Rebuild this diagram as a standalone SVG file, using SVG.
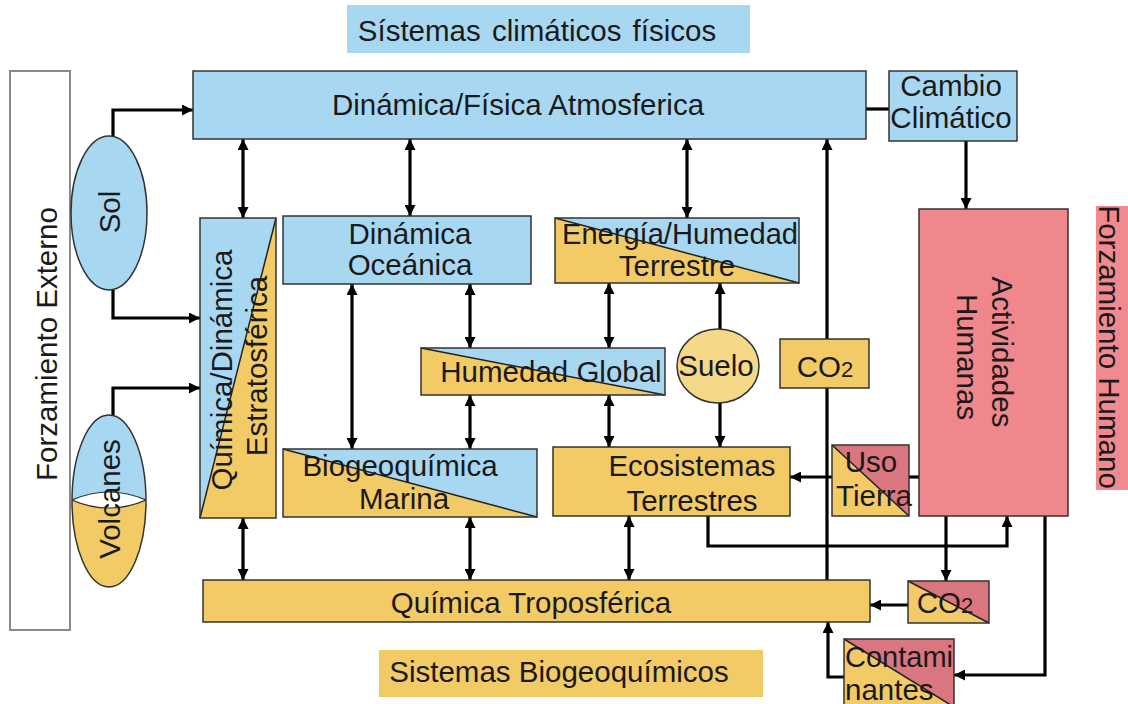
<svg xmlns="http://www.w3.org/2000/svg" width="1128" height="704" viewBox="0 0 1128 704">
<defs>
<marker id="ah" viewBox="0 0 10 10" refX="10" refY="5" markerWidth="11" markerHeight="11" markerUnits="userSpaceOnUse" orient="auto-start-reverse">
<path d="M0,0 L10,5 L0,10 z" fill="#000"/>
</marker>
<clipPath id="volClip"><ellipse cx="109" cy="501" rx="37" ry="86"/></clipPath>
</defs>
<style>
text{font-family:"Liberation Sans",Arial,sans-serif;font-size:29.5px;fill:#1a1a1a}
.m{text-anchor:middle}
.blue{fill:#a8d8f1}
.yel{fill:#f2ca66}
.red{fill:#d9767f}
.ol{fill:none;stroke:#333;stroke-width:1.5}
.dg{stroke:#222;stroke-width:1.5}
.c{fill:none;stroke:#000;stroke-width:3.2}
.a{marker-end:url(#ah)}
.d{marker-start:url(#ah);marker-end:url(#ah)}
</style>
<rect width="1128" height="704" fill="#fff"/>

<g id="label-fisicos">
<rect x="347" y="5" width="403" height="48" class="blue"/>
<text x="537" y="41" class="m" word-spacing="3">Sístemas climáticos físicos</text>
</g>
<g id="label-biogeo">
<rect x="379" y="650" width="384" height="47" class="yel"/>
<text x="559" y="682" class="m">Sistemas Biogeoquímicos</text>
</g>
<g id="forz-externo">
<rect x="10" y="71" width="60" height="559" fill="#fff" stroke="#8a8a8a" stroke-width="2"/>
<text transform="translate(57,344) rotate(-90)" class="m">Forzamiento Externo</text>
</g>
<g id="forz-humano">
<rect x="1096" y="206" width="32" height="284" fill="#f08a90"/>
<text transform="translate(1099,347) rotate(90)" class="m">Forzamiento Humano</text>
</g>

<g id="connectors">
<polyline points="113,136 113,110 193,110" class="c a"/>
<polyline points="113,290 113,318 200,318" class="c a"/>
<polyline points="113,415 113,388 200,388" class="c a"/>
<line x1="243" y1="139" x2="243" y2="218" class="c d"/>
<line x1="410" y1="139" x2="410" y2="216" class="c d"/>
<line x1="687" y1="139" x2="687" y2="218" class="c d"/>
<line x1="866" y1="109" x2="889" y2="109" class="c"/>
<line x1="966" y1="141" x2="966" y2="209" class="c a"/>
<line x1="352" y1="284" x2="352" y2="449" class="c d"/>
<line x1="470" y1="284" x2="470" y2="348" class="c d"/>
<line x1="470" y1="395" x2="470" y2="449" class="c d"/>
<line x1="609" y1="283" x2="609" y2="348" class="c d"/>
<line x1="609" y1="395" x2="609" y2="447" class="c d"/>
<line x1="720" y1="329" x2="720" y2="283" class="c a"/>
<line x1="720" y1="402" x2="720" y2="447" class="c a"/>
<line x1="243" y1="518" x2="243" y2="580" class="c d"/>
<line x1="470" y1="517" x2="470" y2="580" class="c d"/>
<line x1="629" y1="516" x2="629" y2="580" class="c d"/>
<line x1="827" y1="580" x2="827" y2="139" class="c a"/>
<line x1="832" y1="477" x2="790" y2="477" class="c a"/>
<line x1="919" y1="477" x2="909" y2="477" class="c"/>
<polyline points="708,516 708,546 1007,546 1007,516" class="c a"/>
<line x1="946" y1="516" x2="946" y2="581" class="c a"/>
<line x1="908" y1="605" x2="870" y2="605" class="c a"/>
<polyline points="1045,516 1045,675 954,675" class="c a"/>
<polyline points="844,677 828,677 828,622" class="c a"/>
</g>

<g id="atmosferica">
<rect x="193" y="71" width="673" height="68" class="blue"/>
<rect x="193" y="71" width="673" height="68" class="ol"/>
<text x="518" y="115" class="m">Dinámica/Física Atmosferica</text>
</g>
<g id="cambio">
<rect x="889" y="71" width="128" height="70" class="blue"/>
<rect x="889" y="71" width="128" height="70" class="ol"/>
<text x="951" y="96" class="m">Cambio</text>
<text x="951" y="128" class="m">Climático</text>
</g>
<g id="sol">
<ellipse cx="109" cy="213" rx="38" ry="77" class="blue" stroke="#333" stroke-width="1.5"/>
<text transform="translate(120,212) rotate(-90)" class="m">Sol</text>
</g>
<g id="volcanes">
<g clip-path="url(#volClip)">
<rect x="70" y="414" width="80" height="87" class="blue"/>
<rect x="70" y="500" width="80" height="90" class="yel"/>
<path d="M72,500 Q109,484 146,500 Q109,516 72,500 Z" fill="#fff" stroke="#333" stroke-width="1.2"/>
</g>
<ellipse cx="109" cy="501" rx="37" ry="86" class="ol"/>
<text transform="translate(120,499) rotate(-90)" class="m">Volcanes</text>
</g>
<g id="estratosferica">
<rect x="200" y="218" width="76" height="300" class="yel"/>
<polygon points="200,218 276,218 200,518" class="blue"/>
<line x1="200" y1="518" x2="276" y2="218" class="dg"/>
<rect x="200" y="218" width="76" height="300" class="ol"/>
<text transform="translate(232,370) rotate(-90)" class="m">Química/Dinámica</text>
<text transform="translate(267,366) rotate(-90)" class="m">Estratosférica</text>
</g>
<g id="oceanica">
<rect x="283" y="216" width="248" height="68" class="blue"/>
<rect x="283" y="216" width="248" height="68" class="ol"/>
<text x="410" y="244" class="m">Dinámica</text>
<text x="410" y="275" class="m">Oceánica</text>
</g>
<g id="energia">
<rect x="555" y="218" width="244" height="65" class="yel"/>
<polygon points="555,218 799,218 799,283" class="blue"/>
<line x1="555" y1="218" x2="799" y2="283" class="dg"/>
<rect x="555" y="218" width="244" height="65" class="ol"/>
<text x="680" y="244" class="m" textLength="236" lengthAdjust="spacingAndGlyphs">Energía/Humedad</text>
<text x="677" y="276" class="m">Terrestre</text>
</g>
<g id="humedad-global">
<rect x="421" y="348" width="244" height="47" class="yel"/>
<polygon points="421,348 665,348 665,395" class="blue"/>
<line x1="421" y1="348" x2="665" y2="395" class="dg"/>
<rect x="421" y="348" width="244" height="47" class="ol"/>
<text x="551" y="382" class="m">Humedad Global</text>
</g>
<g id="suelo">
<ellipse cx="718" cy="366" rx="41" ry="37" fill="#f5d888" stroke="#333" stroke-width="1.5"/>
<text x="716" y="376" class="m">Suelo</text>
</g>
<g id="co2-medio">
<rect x="780" y="339" width="89" height="49" class="yel"/>
<rect x="780" y="339" width="89" height="49" class="ol"/>
<text x="825" y="377" class="m">CO<tspan font-size="22">2</tspan></text>
</g>
<g id="biogeo-marina">
<rect x="283" y="449" width="254" height="68" class="yel"/>
<polygon points="283,449 537,449 537,517" class="blue"/>
<line x1="283" y1="449" x2="537" y2="517" class="dg"/>
<rect x="283" y="449" width="254" height="68" class="ol"/>
<text x="400" y="476" class="m">Biogeoquímica</text>
<text x="404" y="509" class="m">Marina</text>
</g>
<g id="ecosistemas">
<rect x="553" y="447" width="237" height="69" class="yel"/>
<rect x="553" y="447" width="237" height="69" class="ol"/>
<text x="692" y="476" class="m">Ecosistemas</text>
<text x="692" y="511" class="m">Terrestres</text>
</g>
<g id="uso-tierra">
<rect x="832" y="445" width="77" height="71" class="yel"/>
<polygon points="832,445 909,445 909,516" class="red"/>
<line x1="832" y1="445" x2="909" y2="516" class="dg"/>
<rect x="832" y="445" width="77" height="71" class="ol"/>
<text x="871" y="472" class="m">Uso</text>
<text x="874" y="506" class="m">Tierra</text>
</g>
<g id="actividades">
<rect x="919" y="209" width="149" height="307" fill="#f0878d"/>
<rect x="919" y="209" width="149" height="307" class="ol"/>
<text transform="translate(992,352) rotate(90)" class="m">Actividades</text>
<text transform="translate(957,357) rotate(90)" class="m">Humanas</text>
</g>
<g id="troposferica">
<rect x="203" y="580" width="667" height="42" class="yel"/>
<rect x="203" y="580" width="667" height="42" class="ol"/>
<text x="531" y="613" class="m">Química Troposférica</text>
</g>
<g id="co2-bajo">
<rect x="908" y="581" width="81" height="42" class="yel"/>
<polygon points="908,581 989,581 989,623" class="red"/>
<line x1="908" y1="581" x2="989" y2="623" class="dg"/>
<rect x="908" y="581" width="81" height="42" class="ol"/>
<text x="945" y="613" class="m">CO<tspan font-size="22">2</tspan></text>
</g>
<g id="contaminantes">
<rect x="844" y="639" width="110" height="68" class="yel"/>
<polygon points="844,639 954,639 954,707" class="red"/>
<line x1="844" y1="639" x2="954" y2="707" class="dg"/>
<rect x="844" y="639" width="110" height="68" class="ol"/>
<text x="845" y="667" textLength="108" lengthAdjust="spacingAndGlyphs">Contami</text>
<text x="845" y="700">nantes</text>
</g>
</svg>
